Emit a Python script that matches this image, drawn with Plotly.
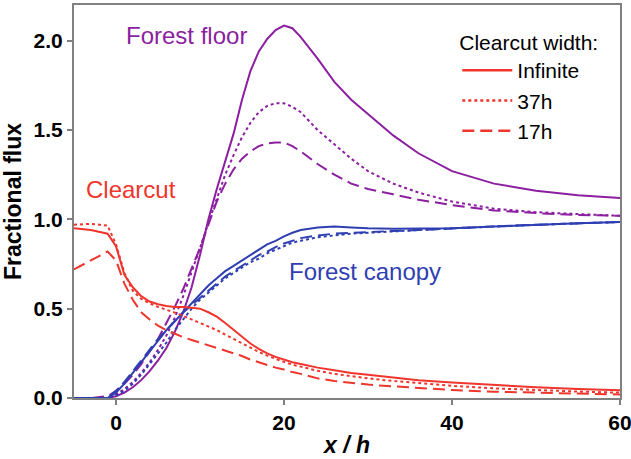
import plotly.graph_objects as go

# x / h positions
x = [-5, -3, -1, 0, 1, 2, 3, 4, 5, 6, 7, 8, 9, 10, 11, 12, 13, 14, 15, 16, 17, 18,
     19, 20, 21, 22, 24, 26, 28, 30, 33, 36, 40, 45, 50, 55, 60]

# Forest floor (purple)
floor_inf = [0, 0, 0.0, 0.01, 0.03, 0.06, 0.10, 0.15, 0.21, 0.28, 0.37, 0.48, 0.62, 0.80, 1.00,
             1.17, 1.33, 1.48, 1.67, 1.83, 1.94, 2.01, 2.06, 2.085, 2.07, 2.02, 1.90, 1.77, 1.67,
             1.59, 1.47, 1.37, 1.27, 1.20, 1.16, 1.135, 1.12]
floor_37 = [0, 0, 0.0, 0.02, 0.05, 0.09, 0.14, 0.20, 0.27, 0.35, 0.45, 0.57, 0.70, 0.84, 0.98,
            1.12, 1.25, 1.36, 1.46, 1.54, 1.60, 1.635, 1.65, 1.65, 1.63, 1.60, 1.50, 1.42, 1.34,
            1.27, 1.20, 1.15, 1.10, 1.06, 1.04, 1.03, 1.02]
floor_17 = [0, 0, 0.01, 0.04, 0.08, 0.13, 0.19, 0.26, 0.33, 0.42, 0.51, 0.61, 0.72, 0.84, 0.97,
            1.10, 1.20, 1.28, 1.34, 1.38, 1.41, 1.425, 1.43, 1.43, 1.41, 1.38, 1.31, 1.25, 1.20,
            1.17, 1.14, 1.11, 1.08, 1.05, 1.035, 1.025, 1.02]

# Forest canopy (blue)
canopy_inf = [0, 0, 0.0, 0.03, 0.08, 0.14, 0.20, 0.26, 0.32, 0.38, 0.43, 0.48, 0.53, 0.58, 0.63,
              0.67, 0.71, 0.74, 0.77, 0.80, 0.83, 0.86, 0.88, 0.905, 0.925, 0.94, 0.955, 0.96,
              0.955, 0.95, 0.948, 0.948, 0.95, 0.96, 0.97, 0.978, 0.985]
canopy_37 = [0, 0, 0.0, 0.015, 0.04, 0.08, 0.13, 0.19, 0.25, 0.31, 0.38, 0.44, 0.50, 0.55, 0.59,
             0.63, 0.67, 0.70, 0.73, 0.76, 0.78, 0.81, 0.83, 0.85, 0.87, 0.88, 0.90, 0.91, 0.92,
             0.925, 0.933, 0.94, 0.95, 0.96, 0.97, 0.978, 0.985]
canopy_17 = [0, 0, 0.0, 0.04, 0.09, 0.15, 0.21, 0.27, 0.33, 0.38, 0.43, 0.48, 0.52, 0.56, 0.60,
             0.64, 0.68, 0.71, 0.74, 0.77, 0.80, 0.82, 0.845, 0.865, 0.88, 0.895, 0.91, 0.92,
             0.925, 0.93, 0.935, 0.94, 0.95, 0.96, 0.97, 0.978, 0.985]

# Clearcut (red)
clear_inf = [0.95, 0.94, 0.92, 0.85, 0.69, 0.62, 0.57, 0.54, 0.525, 0.515, 0.51, 0.51, 0.505,
             0.50, 0.48, 0.455, 0.42, 0.38, 0.34, 0.305, 0.275, 0.25, 0.23, 0.215, 0.20, 0.19,
             0.17, 0.155, 0.14, 0.13, 0.115, 0.10, 0.087, 0.072, 0.06, 0.05, 0.043]
clear_37 = [0.97, 0.975, 0.965, 0.86, 0.70, 0.60, 0.555, 0.53, 0.51, 0.495, 0.478, 0.46, 0.44,
            0.42, 0.40, 0.38, 0.355, 0.33, 0.305, 0.28, 0.258, 0.237, 0.218, 0.202, 0.187, 0.175,
            0.152, 0.135, 0.122, 0.11, 0.095, 0.082, 0.068, 0.054, 0.044, 0.036, 0.03]
clear_17 = [0.72, 0.77, 0.82, 0.77, 0.64, 0.55, 0.48, 0.44, 0.405, 0.38, 0.36, 0.34, 0.325, 0.31,
            0.295, 0.28, 0.265, 0.25, 0.235, 0.215, 0.20, 0.185, 0.17, 0.16, 0.145, 0.135, 0.11,
            0.095, 0.085, 0.075, 0.065, 0.055, 0.045, 0.035, 0.03, 0.025, 0.02]

legend_labels = ["Infinite", "37h", "17h"]
dashes = ["solid", "dot", "12px,6px"]

PURPLE = "#8B1FA0"
BLUE = "#2F3FB2"
RED = "#F0352C"
FONT = "Liberation Sans, Arial, sans-serif"

fig = go.Figure()

groups = [
    (PURPLE, [floor_inf, floor_37, floor_17]),
    (BLUE, [canopy_inf, canopy_37, canopy_17]),
    (RED, [clear_inf, clear_37, clear_17]),
]
for color, series in groups:
    for ys, dash in zip(series, dashes):
        fig.add_trace(go.Scatter(x=x, y=ys, mode="lines", showlegend=False,
                                 line=dict(color=color, width=2, dash=dash)))

for lab, dash in zip(legend_labels, dashes):
    fig.add_trace(go.Scatter(x=[None], y=[None], mode="lines", name=lab,
                             line=dict(color=RED, width=2.5, dash=dash)))

fig.update_layout(
    width=631, height=459,
    margin=dict(l=74, r=11, t=5, b=61),
    paper_bgcolor="white", plot_bgcolor="white",
    font=dict(family=FONT, size=20, color="black"),
    showlegend=True,
    legend=dict(
        title=dict(text="Clearcut width:", font=dict(size=21, family=FONT)),
        x=0.702, y=0.955, xanchor="left", yanchor="top",
        bgcolor="rgba(0,0,0,0)", borderwidth=0,
        font=dict(size=21, family=FONT), tracegroupgap=0, itemwidth=50,
    ),
    xaxis=dict(
        range=[-5, 60], tickvals=[0, 20, 40, 60], ticks="outside", ticklen=5,
        tickcolor="#808080", tickwidth=2, showgrid=False, zeroline=False,
        showline=True, linecolor="#808080", linewidth=2, mirror=True,
        ticklabeloverflow="allow", automargin=False,
        tickfont=dict(size=21, family=FONT, weight="bold"),
        title=dict(text="<b><i>x / h</i></b>", font=dict(size=23, family=FONT), standoff=4),
    ),
    yaxis=dict(
        range=[0, 2.2], tickvals=[0, 0.5, 1.0, 1.5, 2.0], tickformat=".1f",
        ticks="outside", ticklen=5, tickcolor="#808080", tickwidth=2,
        showgrid=False, zeroline=False, automargin=False,
        showline=True, linecolor="#808080", linewidth=2, mirror=True,
        tickfont=dict(size=21, family=FONT, weight="bold"),
        title=dict(text="<b>Fractional flux</b>", font=dict(size=23, family=FONT), standoff=6),
    ),
    annotations=[
        dict(x=8.35, y=2.03, xref="x", yref="y", text="Forest floor", showarrow=False,
             font=dict(size=24, color=PURPLE, family=FONT)),
        dict(x=1.8, y=1.165, xref="x", yref="y", text="Clearcut", showarrow=False,
             font=dict(size=24, color=RED, family=FONT)),
        dict(x=29.7, y=0.706, xref="x", yref="y", text="Forest canopy", showarrow=False,
             font=dict(size=24, color=BLUE, family=FONT)),
    ],
)

fig.write_html("out.html")
